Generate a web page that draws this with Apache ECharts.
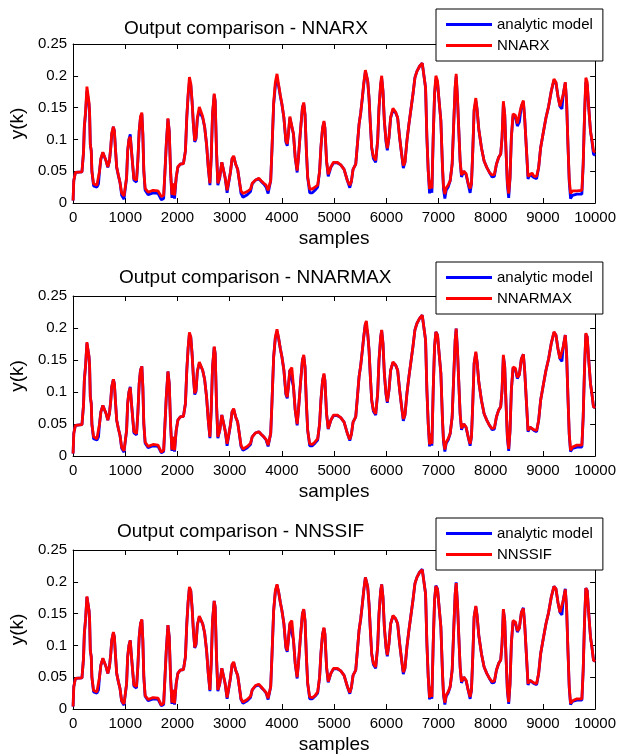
<!DOCTYPE html>
<html>
<head>
<meta charset="utf-8">
<script src="https://cdn.jsdelivr.net/npm/echarts@6/dist/echarts.min.js"></script>
<style>
  html, body { margin: 0; padding: 0; background: #fff; }
  #chart { width: 619px; height: 755px; }
</style>
</head>
<body>
<div id="chart"></div>
<script>
// sample index of each traced point
const samples = [
  0, 13, 44, 170, 190, 200, 215, 240, 265, 290,
  305, 316, 330, 348, 360, 392, 456, 487, 506, 532,
  570, 600, 633, 665, 696, 722, 740, 772, 791, 810,
  835, 867, 899, 930, 975, 1006, 1025, 1045, 1070, 1095,
  1114, 1140, 1165, 1215, 1240, 1266, 1291, 1317, 1336, 1355,
  1380, 1437, 1532, 1627, 1690, 1735, 1760, 1785, 1817, 1842,
  1867, 1893, 1918, 1943, 1975, 2007, 2051, 2114, 2152, 2178,
  2203, 2228, 2254, 2279, 2304, 2330, 2355, 2380, 2418, 2450,
  2482, 2519, 2557, 2589, 2621, 2646, 2671, 2703, 2722, 2747,
  2773, 2810, 2849, 2886, 2912, 2950, 2988, 3013, 3045, 3076,
  3114, 3152, 3184, 3216, 3254, 3336, 3399, 3431, 3494, 3557,
  3602, 3652, 3697, 3735, 3760, 3785, 3811, 3842, 3874, 3906,
  3937, 3969, 4000, 4038, 4076, 4102, 4127, 4152, 4190, 4222,
  4254, 4292, 4317, 4355, 4393, 4418, 4443, 4469, 4494, 4532,
  4583, 4634, 4685, 4722, 4747, 4779, 4805, 4824, 4855, 4887,
  4938, 4988, 5064, 5127, 5191, 5255, 5300, 5331, 5363, 5414,
  5446, 5478, 5510, 5541, 5567, 5599, 5618, 5643, 5669, 5694,
  5720, 5752, 5796, 5834, 5860, 5892, 5911, 5936, 5962, 5994,
  6019, 6051, 6083, 6127, 6178, 6217, 6255, 6293, 6325, 6357,
  6395, 6433, 6471, 6510, 6548, 6586, 6637, 6688, 6726, 6752,
  6777, 6803, 6828, 6854, 6873, 6898, 6924, 6949, 6981, 7006,
  7045, 7076, 7095, 7121, 7147, 7185, 7223, 7261, 7293, 7319,
  7338, 7363, 7389, 7414, 7440, 7484, 7529, 7567, 7605, 7631,
  7656, 7682, 7714, 7739, 7771, 7822, 7873, 7924, 7975, 8026,
  8070, 8109, 8153, 8191, 8217, 8242, 8268, 8293, 8319, 8344,
  8370, 8395, 8427, 8472, 8510, 8548, 8587, 8625, 8650, 8682,
  8714, 8752, 8790, 8828, 8879, 8918, 8956, 9007, 9058, 9109,
  9160, 9211, 9249, 9287, 9326, 9364, 9389, 9428, 9453, 9479,
  9504, 9529, 9568, 9650, 9746, 9771, 9797, 9822, 9848, 9873,
  9911, 9937, 9968, 10000
];

const analytic = [
  .004, .035, .048, .049, .05, .08, .118, .142, .176, .175,
  .155, .142, .092, .082, .05, .027, .025, .03, .05, .069,
  .079, .078, .066, .056, .066, .087, .108, .12, .113, .087,
  .056, .043, .032, .012, .006, .007, .04, .082, .1, .108,
  .087, .061, .036, .033, .066, .113, .134, .14, .108, .05,
  .02, .013, .016, .015, .005, .007, .05, .092, .132, .113,
  .05, .008, .03, .007, .04, .056, .061, .062, .082, .134,
  .168, .19, .186, .16, .124, .096, .101, .132, .145, .145,
  .134, .12, .092, .056, .028, .072, .139, .17, .16, .082,
  .028, .04, .064, .065, .04, .016, .014, .048, .069, .073,
  .061, .053, .035, .015, .009, .013, .018, .03, .036, .038,
  .034, .03, .025, .015, .012, .035, .087, .155, .184, .195,
  .184, .168, .155, .134, .096, .09, .111, .134, .136, .108,
  .072, .048, .072, .113, .15, .156, .139, .082, .04, .016,
  .016, .02, .025, .05, .087, .118, .127, .118, .066, .042,
  .056, .063, .063, .06, .053, .035, .024, .034, .053, .061,
  .092, .124, .142, .165, .186, .207, .21, .192, .165, .124,
  .087, .07, .064, .098, .15, .186, .196, .176, .129, .096,
  .083, .103, .134, .146, .142, .134, .103, .077, .055, .064,
  .098, .124, .147, .171, .197, .207, .215, .22, .22, .181,
  .103, .05, .015, .035, .016, .103, .171, .194, .189, .165,
  .129, .056, .022, .007, .02, .025, .035, .061, .129, .181,
  .199, .165, .113, .066, .041, .05, .044, .03, .016, .03,
  .082, .145, .161, .147, .116, .087, .066, .056, .048, .041,
  .042, .061, .072, .077, .103, .156, .139, .082, .028, .008,
  .04, .103, .137, .135, .121, .127, .152, .159, .134, .087,
  .038, .045, .046, .04, .038, .056, .087, .111, .134, .152,
  .176, .193, .189, .168, .152, .148, .171, .189, .16, .092,
  .033, .007, .012, .014, .014, .061, .139, .19, .186, .155,
  .113, .098, .077, .075
];

const nnarx = [
  .004, .035, .048, .049, .05, .08, .12, .145, .183, .184,
  .158, .142, .092, .082, .05, .03, .028, .031, .05, .07,
  .08, .079, .066, .057, .066, .088, .11, .12, .113, .087,
  .056, .044, .032, .016, .011, .012, .04, .082, .1, .104,
  .087, .061, .038, .036, .066, .113, .136, .142, .108, .05,
  .023, .017, .02, .019, .01, .012, .05, .092, .133, .113,
  .05, .013, .031, .012, .04, .057, .061, .062, .082, .136,
  .17, .198, .188, .16, .124, .098, .103, .134, .151, .149,
  .136, .12, .092, .056, .031, .072, .141, .172, .16, .082,
  .031, .041, .064, .066, .04, .02, .02, .048, .07, .074,
  .061, .053, .035, .019, .015, .018, .022, .031, .036, .039,
  .035, .031, .028, .02, .018, .035, .088, .158, .19, .203,
  .186, .17, .156, .134, .098, .093, .111, .136, .139, .108,
  .072, .051, .072, .114, .15, .158, .139, .082, .04, .022,
  .022, .025, .028, .05, .088, .118, .129, .118, .066, .045,
  .057, .064, .064, .06, .053, .035, .028, .034, .053, .061,
  .092, .124, .142, .166, .188, .209, .212, .192, .165, .124,
  .087, .073, .067, .098, .15, .188, .2, .176, .129, .099,
  .086, .103, .135, .149, .143, .134, .103, .077, .059, .064,
  .098, .124, .147, .171, .197, .207, .215, .22, .22, .181,
  .103, .05, .022, .036, .023, .103, .172, .2, .192, .165,
  .129, .056, .026, .014, .024, .028, .035, .061, .13, .183,
  .203, .165, .113, .066, .044, .05, .046, .031, .023, .031,
  .082, .147, .165, .147, .116, .087, .066, .056, .048, .044,
  .045, .061, .072, .077, .103, .16, .139, .082, .032, .015,
  .04, .103, .14, .138, .125, .127, .153, .161, .134, .087,
  .042, .045, .047, .042, .042, .056, .087, .111, .134, .152,
  .176, .195, .19, .168, .152, .152, .171, .19, .16, .092,
  .037, .015, .019, .019, .02, .061, .139, .197, .19, .155,
  .113, .1, .082, .08
];

const nnarmax = [
  .004, .035, .048, .049, .05, .08, .118, .142, .178, .18,
  .155, .142, .092, .082, .05, .03, .027, .03, .05, .069,
  .079, .078, .066, .056, .066, .087, .108, .12, .113, .087,
  .056, .043, .032, .014, .008, .009, .04, .082, .1, .107,
  .087, .061, .038, .035, .066, .113, .134, .14, .108, .05,
  .022, .015, .018, .017, .006, .009, .05, .092, .132, .113,
  .05, .01, .03, .009, .04, .056, .061, .062, .082, .134,
  .168, .193, .186, .16, .124, .098, .103, .132, .147, .147,
  .134, .12, .092, .056, .03, .072, .139, .171, .16, .082,
  .03, .04, .064, .066, .04, .019, .017, .048, .069, .074,
  .061, .053, .035, .017, .011, .015, .02, .03, .036, .038,
  .034, .03, .026, .017, .015, .035, .087, .155, .186, .198,
  .184, .168, .155, .134, .098, .092, .111, .134, .138, .108,
  .072, .05, .072, .113, .15, .158, .139, .082, .04, .019,
  .018, .022, .027, .05, .087, .118, .129, .118, .066, .043,
  .056, .064, .064, .06, .053, .035, .026, .034, .053, .061,
  .092, .124, .142, .165, .186, .207, .211, .192, .165, .124,
  .087, .072, .066, .098, .15, .186, .197, .176, .129, .098,
  .085, .103, .134, .147, .142, .134, .103, .077, .058, .064,
  .098, .124, .147, .171, .197, .207, .215, .22, .22, .181,
  .103, .05, .018, .035, .019, .103, .171, .194, .189, .165,
  .129, .056, .025, .01, .022, .027, .035, .061, .129, .181,
  .199, .165, .113, .066, .043, .05, .045, .03, .019, .03,
  .082, .145, .163, .147, .116, .087, .066, .056, .048, .043,
  .044, .061, .072, .077, .103, .158, .139, .082, .03, .011,
  .04, .103, .139, .137, .123, .127, .152, .159, .134, .087,
  .04, .045, .046, .041, .04, .056, .087, .111, .134, .152,
  .176, .194, .189, .168, .152, .15, .171, .189, .16, .092,
  .035, .009, .014, .017, .017, .061, .139, .192, .186, .155,
  .113, .098, .077, .075
];

const nnssif = [
  .004, .035, .048, .049, .05, .08, .118, .142, .177, .178,
  .155, .142, .092, .082, .05, .029, .027, .03, .05, .069,
  .08, .079, .066, .056, .066, .087, .108, .121, .113, .087,
  .056, .043, .032, .013, .008, .009, .04, .082, .1, .108,
  .087, .061, .038, .035, .066, .113, .134, .141, .108, .05,
  .021, .015, .018, .017, .006, .009, .05, .092, .132, .113,
  .05, .01, .03, .009, .04, .056, .061, .062, .082, .134,
  .168, .192, .186, .16, .124, .097, .103, .132, .146, .146,
  .134, .12, .092, .056, .03, .072, .139, .17, .16, .082,
  .03, .04, .064, .066, .04, .018, .016, .048, .07, .074,
  .061, .053, .035, .016, .011, .015, .02, .03, .037, .039,
  .035, .03, .026, .017, .014, .035, .087, .155, .186, .196,
  .184, .168, .155, .134, .098, .092, .111, .135, .139, .108,
  .072, .05, .072, .113, .15, .157, .139, .082, .04, .019,
  .018, .021, .027, .05, .087, .118, .128, .118, .066, .043,
  .056, .064, .064, .06, .053, .035, .026, .034, .053, .061,
  .092, .124, .142, .165, .186, .207, .21, .192, .165, .124,
  .087, .072, .066, .098, .15, .186, .196, .176, .129, .098,
  .085, .103, .134, .147, .142, .134, .103, .077, .058, .064,
  .098, .124, .147, .171, .197, .207, .215, .219, .22, .181,
  .103, .05, .018, .035, .019, .103, .171, .193, .188, .165,
  .129, .056, .024, .01, .022, .027, .035, .061, .129, .181,
  .198, .165, .113, .066, .043, .05, .045, .03, .019, .03,
  .082, .145, .162, .147, .116, .087, .066, .056, .048, .043,
  .044, .061, .072, .077, .103, .157, .139, .082, .03, .011,
  .04, .103, .139, .137, .123, .127, .152, .158, .134, .087,
  .04, .045, .046, .041, .04, .056, .087, .111, .134, .152,
  .176, .193, .189, .168, .152, .15, .171, .188, .16, .092,
  .035, .009, .013, .016, .016, .061, .139, .19, .186, .155,
  .113, .098, .077, .075
];

const xTicks = [0, 1000, 2000, 3000, 4000, 5000, 6000, 7000, 8000, 9000, 10000];
const yTicks = [0, 0.05, 0.1, 0.15, 0.2, 0.25];
const models = ["NNARX", "NNARMAX", "NNSSIF"];
const modelValues = [nnarx, nnarmax, nnssif];

const FONT = "'Liberation Sans', Arial, sans-serif";
const BLUE = "#0000ff";
const RED = "#ff0000";

// panel placement (px)
const layout = [
  { top: 44, height: 159, titleLeft: 124, titleTop: 19, legendTop: 9 },
  { top: 296, height: 160, titleLeft: 119, titleTop: 268, legendTop: 262 },
  { top: 550, height: 160, titleLeft: 117, titleTop: 522, legendTop: 518 },
];

const pairs = (vals) => samples.map((s, i) => [s, vals[i]]);

const tickStyle = { show: true, inside: true, length: 5, lineStyle: { color: "#000", width: 1 } };
const lineAxis = { show: true, onZero: false, lineStyle: { color: "#000", width: 1 } };
const labelStyle = { color: "#000", fontSize: 15, fontFamily: FONT };

const xMin = xTicks[0], xMax = xTicks[xTicks.length - 1], xStep = xTicks[1] - xTicks[0];
const yMin = yTicks[0], yMax = yTicks[yTicks.length - 1], yStep = yTicks[1] - yTicks[0];

const grid = [], xAxis = [], yAxis = [], series = [], title = [], legend = [];

layout.forEach((p, i) => {
  grid.push({ left: 73, width: 524, top: p.top, height: p.height, containLabel: false });

  xAxis.push({
    type: "value", gridIndex: i, position: "bottom",
    min: xMin, max: xMax, interval: xStep,
    axisLine: lineAxis, axisTick: tickStyle, splitLine: { show: false },
    axisLabel: { ...labelStyle, margin: 7, formatter: (v) => String(v) },
    name: "samples", nameLocation: "middle", nameGap: 26,
    nameTextStyle: { color: "#000", fontSize: 19, fontFamily: FONT },
  });
  xAxis.push({
    type: "value", gridIndex: i, position: "top",
    min: xMin, max: xMax, interval: xStep,
    axisLine: lineAxis, axisTick: tickStyle, splitLine: { show: false },
    axisLabel: { show: false },
  });

  yAxis.push({
    type: "value", gridIndex: i, position: "left",
    min: yMin, max: yMax, interval: yStep,
    axisLine: lineAxis, axisTick: tickStyle, splitLine: { show: false },
    axisLabel: { ...labelStyle, margin: 6 },
    name: "y(k)", nameLocation: "middle", nameGap: 38,
    nameTextStyle: { color: "#000", fontSize: 19, fontFamily: FONT },
  });
  yAxis.push({
    type: "value", gridIndex: i, position: "right",
    min: yMin, max: yMax, interval: yStep,
    axisLine: lineAxis, axisTick: tickStyle, splitLine: { show: false },
    axisLabel: { show: false },
  });

  series.push({
    name: "analytic model", type: "line",
    xAxisIndex: 2 * i, yAxisIndex: 2 * i,
    data: pairs(analytic), showSymbol: false, symbol: "none",
    lineStyle: { color: BLUE, width: 2.8 }, itemStyle: { color: BLUE },
    z: 2,
  });
  series.push({
    name: models[i], type: "line",
    xAxisIndex: 2 * i, yAxisIndex: 2 * i,
    data: pairs(modelValues[i]), showSymbol: false, symbol: "none",
    lineStyle: { color: RED, width: 2.8 }, itemStyle: { color: RED },
    z: 3,
  });

  title.push({
    text: "Output comparison - " + models[i],
    left: p.titleLeft, top: p.titleTop, padding: 0,
    textStyle: { color: "#000", fontSize: 19, fontWeight: "normal", fontFamily: FONT },
  });

  legend.push({
    data: ["analytic model", models[i]],
    left: 436, top: p.legendTop, width: 168,
    orient: "vertical", align: "left",
    backgroundColor: "#fff", borderColor: "#000", borderWidth: 1, borderRadius: 0,
    padding: [8, 10, 8, 10], itemGap: 6,
    itemWidth: 46, itemHeight: 3, icon: "rect",
    selectedMode: false,
    textStyle: { color: "#000", fontSize: 15, fontFamily: FONT, padding: [0, 0, 0, 0] },
    z: 10,
  });
});

const chart = echarts.init(document.getElementById("chart"), null, { renderer: "canvas" });
chart.setOption({
  animation: false,
  backgroundColor: "#fff",
  title, legend, grid, xAxis, yAxis, series,
});
</script>
</body>
</html>
